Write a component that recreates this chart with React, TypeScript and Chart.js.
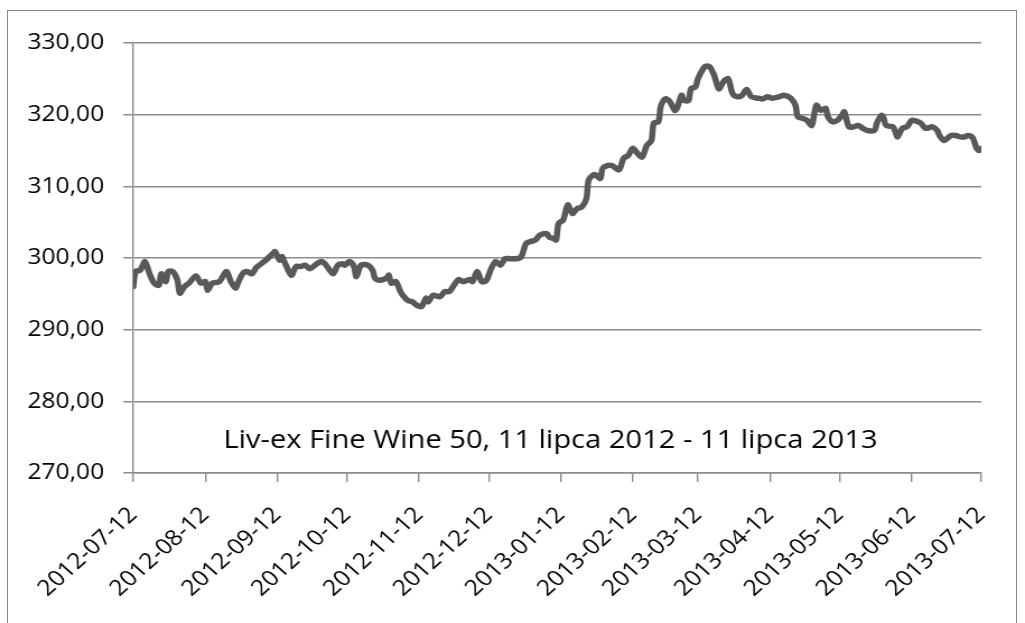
import React, { useEffect, useRef } from "react";
import { Chart, registerables } from "chart.js";

Chart.register(...registerables);

const startDate = "2012-07-12";
const tickLabels = [
  "2012-07-12", "2012-08-12", "2012-09-12", "2012-10-12", "2012-11-12", "2012-12-12",
  "2013-01-12", "2013-02-12", "2013-03-12", "2013-04-12", "2013-05-12", "2013-06-12", "2013-07-12",
];
const dayOffsets = [
  0, 1, 3, 5, 7, 9, 11, 12, 14, 15, 17, 19, 20, 22, 24, 27, 29, 31, 32, 34, 37, 40, 42, 44, 45, 47, 49, 51, 53, 55, 57, 60,
  61, 63, 64, 65, 68, 70, 72, 74, 76, 79, 81, 83, 86, 88, 90, 91, 93, 95, 96, 98, 101, 103, 104, 106, 109, 110, 111, 113, 115, 116, 118, 120,
  122, 124, 126, 127, 129, 132, 134, 136, 138, 140, 142, 145, 146, 148, 150, 152, 154, 156, 158, 160, 162, 165, 167, 169, 171, 173, 175, 178, 179, 181, 182, 183,
  185, 187, 189, 191, 193, 195, 196, 198, 199, 201, 202, 204, 206, 209, 211, 213, 215, 217, 219, 221, 223, 224, 226, 227, 229, 231, 233, 234, 236, 237, 239, 240, 242, 243,
  246, 248, 250, 252, 254, 256, 258, 260, 262, 264, 266, 269, 271, 273, 275, 278, 280, 283, 285, 286, 288, 290, 292, 294, 296, 298, 299, 301, 303, 305, 306,
  308, 310, 312, 314, 316, 319, 320, 322, 323, 324, 327, 328, 329, 331, 333, 335, 337, 339, 341, 344, 346, 347, 349, 352, 354, 356, 358, 359, 361, 362, 363, 364, 365,
];
const indexValues = [
  296.0, 298.1, 298.3, 299.5, 297.8, 296.5, 296.2, 297.8, 296.7, 298.1, 298.1, 296.9, 295.1, 296.0, 296.5, 297.5, 296.5, 296.7, 295.5, 296.5, 296.7, 298.1, 296.7, 295.8, 296.5, 297.8, 298.1, 297.8, 298.7, 299.2, 299.7, 300.6,
  300.9, 299.7, 300.2, 299.5, 297.6, 298.8, 298.8, 299.0, 298.5, 299.2, 299.5, 299.0, 297.8, 299.0, 299.2, 299.0, 299.5, 298.8, 297.4, 299.0, 299.0, 298.3, 297.2, 296.9, 297.2, 297.6, 296.5, 296.7, 295.3, 294.8, 294.1, 293.9,
  293.4, 293.2, 294.4, 293.9, 294.8, 294.6, 295.3, 295.3, 296.2, 297.0, 296.7, 297.0, 296.7, 298.1, 296.7, 296.9, 298.5, 299.5, 299.0, 299.9, 299.9, 299.9, 300.2, 302.0, 302.3, 302.5, 303.2, 303.4, 302.9, 302.7, 302.5, 304.8,
  305.3, 307.4, 306.2, 306.9, 307.1, 308.3, 310.9, 311.6, 311.6, 311.1, 312.5, 312.9, 312.9, 312.3, 313.9, 314.3, 315.3, 314.6, 314.1, 315.7, 316.4, 318.8, 319.0, 321.1, 322.2, 321.8, 320.6, 320.9, 322.7, 322.0, 322.0, 323.6, 323.9, 325.0,
  326.7, 326.7, 325.5, 323.6, 324.6, 325.0, 322.9, 322.5, 322.7, 323.5, 322.5, 322.3, 322.2, 322.5, 322.3, 322.5, 322.7, 322.3, 321.3, 319.7, 319.5, 319.2, 318.5, 321.3, 320.6, 320.9, 319.7, 319.0, 319.2, 319.9, 320.4,
  318.3, 318.3, 318.5, 318.1, 317.8, 317.8, 318.8, 319.9, 319.5, 318.5, 318.3, 317.6, 316.9, 318.1, 318.3, 319.2, 319.1, 318.8, 318.1, 318.3, 317.8, 317.1, 316.4, 317.1, 317.1, 316.9, 316.9, 317.1, 316.9, 316.2, 315.3, 315.0, 315.3,
];
const yMin = 270;
const yMax = 330;
const yStep = 10;
const chartCaption = "Liv-ex Fine Wine 50, 11 lipca 2012 - 11 lipca 2013";

const DAY_MS = 86400000;
const tickOffsets = tickLabels.map((l) => Math.round((Date.parse(l) - Date.parse(startDate)) / DAY_MS));

const FONT = "'Open Sans', 'DejaVu Sans', sans-serif";

// The reference picture is horizontally stretched; the chart is drawn narrower and stretched by CSS.
const VIEW_W = 1025;
const VIEW_H = 623;
const STRETCH = 1.12;
const CANVAS_W = Math.round(VIEW_W / STRETCH);

const captionPlugin = {
  id: "caption",
  afterDatasetsDraw(chart: any) {
    const { ctx, chartArea } = chart;
    ctx.save();
    ctx.font = `26px ${FONT}`;
    ctx.fillStyle = "#000000";
    ctx.textAlign = "center";
    ctx.textBaseline = "alphabetic";
    ctx.fillText(chartCaption, chartArea.left + (chartArea.right - chartArea.left) * 0.492, chartArea.bottom - 25);
    ctx.restore();
  },
};

export default function App() {
  const ref = useRef<HTMLCanvasElement | null>(null);

  useEffect(() => {
    if (!ref.current) return;
    const chart = new Chart(ref.current, {
      type: "line",
      data: {
        datasets: [
          {
            data: dayOffsets.map((d, i) => ({ x: d, y: indexValues[i] })),
            borderColor: "#595959",
            borderWidth: 5.5,
            pointRadius: 0,
            tension: 0.3,
            fill: false,
            borderCapStyle: "round",
            borderJoinStyle: "round",
          },
        ],
      },
      options: {
        animation: false,
        responsive: false,
        devicePixelRatio: 1,
        layout: { padding: { top: 43, right: 39, left: 0, bottom: 0 } },
        plugins: { legend: { display: false }, tooltip: { enabled: false }, title: { display: false } },
        scales: {
          x: {
            type: "linear",
            min: 0,
            max: tickOffsets[tickOffsets.length - 1],
            afterBuildTicks: (scale: any) => {
              scale.ticks = tickOffsets.map((v) => ({ value: v }));
            },
            afterFit: (scale: any) => {
              scale.height = 150;
            },
            grid: {
              drawOnChartArea: false,
              drawTicks: true,
              tickLength: 9,
              color: "#8c8c8c",
              lineWidth: 1.4,
            },
            border: { display: true, color: "#8c8c8c", width: 1.5 },
            ticks: {
              autoSkip: false,
              maxRotation: 45,
              minRotation: 45,
              padding: 20,
              color: "#000000",
              font: { family: FONT, size: 22 },
              callback: (v: any) => {
                const i = tickOffsets.indexOf(Number(v));
                return i >= 0 ? tickLabels[i] : "";
              },
            },
          },
          y: {
            min: yMin,
            max: yMax,
            afterFit: (scale: any) => {
              scale.width = 119;
            },
            grid: {
              drawOnChartArea: true,
              drawTicks: true,
              tickLength: 9,
              color: "#8c8c8c",
              lineWidth: 1.5,
            },
            border: { display: true, color: "#8c8c8c", width: 1.4 },
            ticks: {
              stepSize: yStep,
              padding: 17,
              color: "#000000",
              font: { family: FONT, size: 22 },
              callback: (v: any) => Number(v).toFixed(2).replace(".", ","),
            },
          },
        },
      },
      plugins: [captionPlugin],
    });
    return () => chart.destroy();
  }, []);

  return (
    <div style={{ position: "fixed", left: 0, top: 0, width: VIEW_W, height: VIEW_H, overflow: "hidden", background: "#fff" }}>
      <div
        style={{
          position: "absolute",
          left: 7,
          top: 10,
          width: 1010,
          height: 700,
          border: "1.5px solid #888888",
          boxSizing: "border-box",
        }}
      />
      <canvas
        ref={ref}
        width={CANVAS_W}
        height={VIEW_H}
        style={{ position: "absolute", left: 0, top: 0, width: VIEW_W, height: VIEW_H, display: "block" }}
      />
    </div>
  );
}
